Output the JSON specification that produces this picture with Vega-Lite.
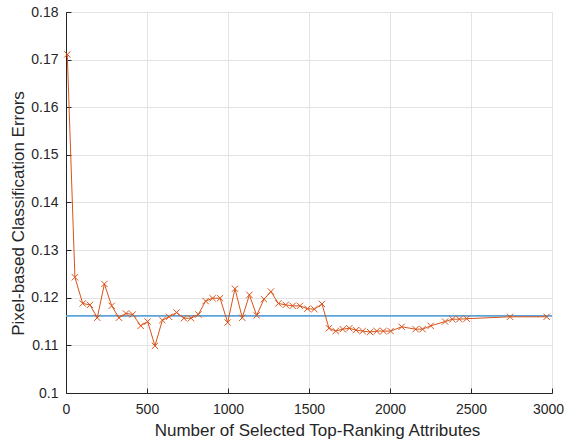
{
  "$schema": "https://vega.github.io/schema/vega-lite/v6.json",
  "width": 486,
  "height": 381,
  "autosize": {"type": "none"},
  "padding": {"left": 66, "top": 12, "right": 13, "bottom": 50},
  "background": "white",
  "config": {
    "view": {"stroke": null}
  },
  "datasets": {
    "err": [
      {"n": 8, "e": 0.1711}, {"n": 55, "e": 0.1243}, {"n": 103, "e": 0.1188}, {"n": 148, "e": 0.1185},
      {"n": 193, "e": 0.1158}, {"n": 237, "e": 0.1229}, {"n": 282, "e": 0.1183}, {"n": 327, "e": 0.1158},
      {"n": 370, "e": 0.1167}, {"n": 412, "e": 0.1165}, {"n": 461, "e": 0.1141}, {"n": 504, "e": 0.115},
      {"n": 549, "e": 0.1099}, {"n": 595, "e": 0.1153}, {"n": 636, "e": 0.116}, {"n": 683, "e": 0.1169},
      {"n": 728, "e": 0.1157}, {"n": 772, "e": 0.1157}, {"n": 817, "e": 0.1165}, {"n": 862, "e": 0.1193},
      {"n": 905, "e": 0.1199}, {"n": 951, "e": 0.1199}, {"n": 998, "e": 0.1148}, {"n": 1043, "e": 0.1219},
      {"n": 1088, "e": 0.1158}, {"n": 1132, "e": 0.1206}, {"n": 1177, "e": 0.1163}, {"n": 1222, "e": 0.1197},
      {"n": 1265, "e": 0.1213}, {"n": 1311, "e": 0.1188}, {"n": 1356, "e": 0.1185}, {"n": 1399, "e": 0.1183},
      {"n": 1444, "e": 0.1183}, {"n": 1490, "e": 0.1177}, {"n": 1533, "e": 0.1176}, {"n": 1580, "e": 0.1187},
      {"n": 1623, "e": 0.1136}, {"n": 1665, "e": 0.113}, {"n": 1708, "e": 0.1134}, {"n": 1749, "e": 0.1136},
      {"n": 1790, "e": 0.1132}, {"n": 1831, "e": 0.113}, {"n": 1877, "e": 0.1128}, {"n": 1918, "e": 0.113},
      {"n": 1959, "e": 0.113}, {"n": 2004, "e": 0.113}, {"n": 2072, "e": 0.1139}, {"n": 2158, "e": 0.1134},
      {"n": 2201, "e": 0.1134}, {"n": 2251, "e": 0.1141}, {"n": 2340, "e": 0.115}, {"n": 2385, "e": 0.1155},
      {"n": 2428, "e": 0.1155}, {"n": 2473, "e": 0.1156}, {"n": 2741, "e": 0.116}, {"n": 2967, "e": 0.116}
    ],
    "base": [
      {"n": 0, "e": 0.1162}, {"n": 3000, "e": 0.1162}
    ]
  },
  "layer": [
    {
      "data": {"name": "base"},
      "mark": {"type": "line", "color": "#5ba3d9", "strokeWidth": 1.6},
      "encoding": {
        "x": {
          "field": "n", "type": "quantitative",
          "scale": {"domain": [0, 3000], "nice": false},
          "axis": {
            "values": [0, 500, 1000, 1500, 2000, 2500, 3000], "format": "d",
            "title": "Number of Selected Top-Ranking Attributes",
            "labelFont": "Liberation Sans", "labelFontSize": 14, "labelColor": "#262626", "labelPadding": 14, "labelFlush": false, "labelOverlap": false,
            "labelOffset": {"condition": {"test": "datum.value == 3000", "value": -4}, "value": 0},
            "titleFont": "Liberation Sans", "titleFontSize": 17, "titleFontWeight": "normal", "titleColor": "#262626", "titlePadding": 6, "titleX": 251,
            "gridColor": "#e3e3e3", "domainColor": "#262626", "tickColor": "#262626", "tickSize": -5
          }
        },
        "y": {
          "field": "e", "type": "quantitative",
          "scale": {"domain": [0.1, 0.18], "nice": false, "zero": false},
          "axis": {
            "values": [0.1, 0.11, 0.12, 0.13, 0.14, 0.15, 0.16, 0.17, 0.18], "format": ".2~f",
            "title": "Pixel-based Classification Errors",
            "labelFont": "Liberation Sans", "labelFontSize": 14, "labelColor": "#262626", "labelPadding": 13, "labelFlush": false, "labelOverlap": false,
            "titleFont": "Liberation Sans", "titleFontSize": 17, "titleFontWeight": "normal", "titleColor": "#262626", "titlePadding": 3, "titleY": 201,
            "gridColor": "#e3e3e3", "domainColor": "#262626", "tickColor": "#262626", "tickSize": -5
          }
        }
      }
    },
    {
      "data": {"name": "err"},
      "mark": {"type": "line", "color": "#D95319", "strokeWidth": 1},
      "encoding": {
        "x": {"field": "n", "type": "quantitative"},
        "y": {"field": "e", "type": "quantitative"}
      }
    },
    {
      "data": {"name": "err"},
      "mark": {"type": "point", "shape": "M-1,-1L1,1M-1,1L1,-1", "filled": false, "stroke": "#D95319", "strokeWidth": 1, "size": 40, "opacity": 1},
      "encoding": {
        "x": {"field": "n", "type": "quantitative"},
        "y": {"field": "e", "type": "quantitative"}
      }
    }
  ]
}
